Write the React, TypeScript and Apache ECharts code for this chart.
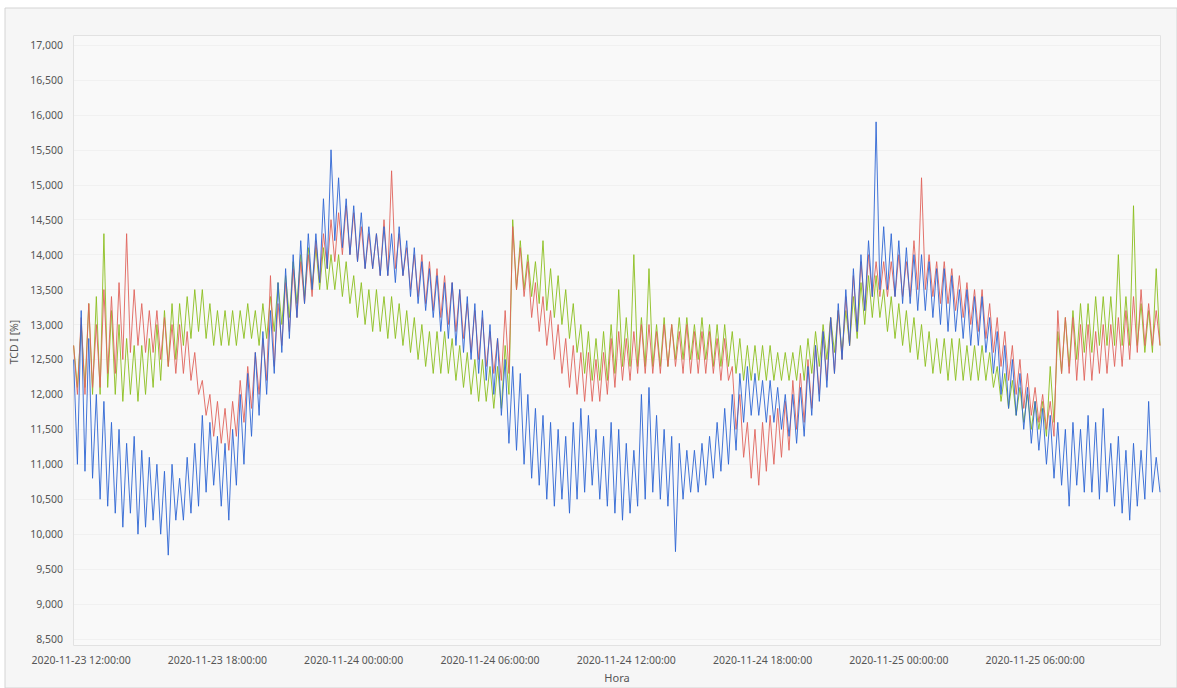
import React, { useEffect, useRef } from "react";
import * as echarts from "echarts";

// Readings every 20 minutes from 2020-11-23 11:40 (UTC): for each slot the
// upper reading (at the slot) and the lower reading (10 minutes later).
const START_TIME = Date.UTC(2020, 10, 23, 11, 40);
const SLOT_MS = 20 * 60 * 1000;
const HALF_MS = 10 * 60 * 1000;

const xTickLabels = [
  "2020-11-23 12:00:00",
  "2020-11-23 18:00:00",
  "2020-11-24 00:00:00",
  "2020-11-24 06:00:00",
  "2020-11-24 12:00:00",
  "2020-11-24 18:00:00",
  "2020-11-25 00:00:00",
  "2020-11-25 06:00:00",
];

const seriesNames = ["Verde", "Vermelho", "Azul"];

const greenHigh = [
  12700, 13000, 13300, 13400, 14300, 13200, 13000, 12800, 12700, 12700,
  12800, 13000, 13200, 13300, 13300, 13400, 13500, 13500, 13300, 13200,
  13200, 13200, 13200, 13300, 13200, 13300, 13400, 13600, 13700, 13900,
  14000, 14100, 14100, 14100, 14000, 14000, 13900, 13700, 13600, 13500,
  13500, 13400, 13400, 13300, 13200, 13100, 13000, 12900, 12900, 12900,
  12800, 12700, 12600, 12500, 12500, 12400, 12400, 12700, 14500, 14200,
  14000, 13900, 14200, 13800, 13700, 13500, 13300, 13000, 12900, 12800,
  12900, 13000, 13500, 13100, 14000, 13100, 13800, 13000, 13100, 13000,
  13100, 13100, 13000, 13100, 13000, 13000, 13000, 12900, 12800, 12700,
  12700, 12700, 12700, 12600, 12600, 12600, 12700, 12800, 12900, 13000,
  13100, 13200, 13200, 13400, 13600, 13700, 13700, 13500, 13400, 13300,
  13200, 13100, 13000, 12900, 12800, 12800, 12800, 12800, 12700, 12700,
  12700, 12600, 12400, 12300, 12200, 12100, 12000, 11900, 11900, 12400,
  12900, 13100, 13200, 13300, 13300, 13400, 13400, 13400, 14000, 13400,
  14700, 13300, 13200, 13800,
];
const greenLow = [
  12100, 12100, 12000, 12000, 12100, 12000, 11900, 12000, 11900, 12000,
  12100, 12200, 12400, 12500, 12700, 12800, 12900, 12800, 12700, 12700,
  12700, 12700, 12800, 12800, 12700, 12800, 12900, 13000, 13100, 13300,
  13400, 13500, 13500, 13500, 13500, 13400, 13300, 13100, 13000, 12900,
  12900, 12800, 12800, 12700, 12600, 12500, 12400, 12300, 12300, 12300,
  12200, 12100, 12000, 11900, 11900, 11800, 11800, 12000, 13500, 13500,
  13400, 13300, 13200, 13100, 13000, 12800, 12600, 12300, 12200, 12200,
  12200, 12300, 12400, 12400, 12400, 12400, 12400, 12400, 12400, 12500,
  12500, 12500, 12500, 12500, 12400, 12400, 12400, 12300, 12200, 12200,
  12200, 12200, 12200, 12200, 12200, 12200, 12200, 12300, 12400, 12500,
  12600, 12600, 12700, 12800, 13000, 13100, 13100, 12900, 12800, 12700,
  12600, 12500, 12400, 12300, 12300, 12200, 12200, 12200, 12200, 12200,
  12200, 12100, 11900, 11800, 11700, 11600, 11500, 11500, 11400, 11600,
  12300, 12400, 12500, 12600, 12600, 12700, 12700, 12700, 12700, 12700,
  12700, 12600, 12600, 12700,
];

const redHigh = [
  12700, 13100, 13300, 13000, 13500, 13400, 13600, 14300, 13500, 13300,
  13200, 13200, 13100, 13000, 13000, 12900, 12600, 12200, 12000, 11900,
  11800, 11900, 12200, 12400, 12600, 12800, 13700, 13300, 13600, 13800,
  13900, 14000, 14200, 14300, 14500, 14600, 14700, 14600, 14400, 14300,
  14300, 14500, 15200, 14300, 14100, 14000, 14000, 13900, 13800, 13700,
  13600, 13500, 13300, 13200, 13100, 12900, 12800, 13200, 14400, 14100,
  13900, 13600, 13400, 13200, 13000, 12800, 12700, 12600, 12600, 12500,
  12600, 12800, 12900, 12800, 12900, 13000, 13000, 12900, 13000, 13000,
  12900, 13000, 12900, 12900, 12900, 12800, 12800, 12400, 12000, 11600,
  11500, 11600, 11700, 11800, 11900, 12200, 12300, 12500, 12700, 12900,
  13100, 13200, 13400, 13700, 13900, 14000, 13900, 13900, 13900, 14000,
  13900, 14200, 15100, 14000, 13900, 13900, 13800, 13700, 13600, 13500,
  13500, 13300, 13100, 12900, 12700, 12500, 12300, 12100, 12000, 11900,
  13200, 13100, 13100, 13000, 13000, 12900, 13000, 13000, 13100, 13200,
  13400, 13500, 13300, 13200,
];
const redLow = [
  12000, 12000, 12100, 12100, 12300, 12300, 12500, 12600, 12700, 12600,
  12600, 12500, 12400, 12300, 12300, 12200, 12000, 11700, 11400, 11300,
  11200, 11400, 11600, 11800, 12000, 12200, 12400, 12700, 12900, 13100,
  13300, 13400, 13600, 13800, 13900, 14000, 14000, 13900, 13800, 13800,
  13700, 13700, 13800, 13700, 13500, 13400, 13300, 13200, 13100, 13000,
  12900, 12800, 12600, 12500, 12400, 12300, 12200, 12300, 13500, 13400,
  13100, 12900, 12700, 12500, 12300, 12100, 12000, 11900, 11900, 11900,
  12000, 12100, 12200, 12200, 12300, 12300, 12300, 12300, 12400, 12400,
  12300, 12300, 12300, 12300, 12300, 12200, 12200, 11500, 11100, 10800,
  10700, 10900, 11000, 11100, 11200, 11500, 11600, 11800, 12000, 12200,
  12300, 12500, 12700, 12900, 13200, 13400, 13400, 13400, 13400, 13400,
  13400, 13500, 13500, 13400, 13300, 13300, 13200, 13100, 13000, 12900,
  12800, 12600, 12400, 12200, 12000, 11800, 11700, 11600, 11500, 11400,
  12300, 12300, 12200, 12200, 12200, 12300, 12300, 12400, 12400, 12500,
  12600, 12700, 12700, 12700,
];

const blueHigh = [
  12500, 13200, 12800, 12000, 11900, 11600, 11500, 11300, 11400, 11200,
  11100, 11000, 10900, 11000, 10800, 11100, 11300, 11700, 11600, 11400,
  11300, 11500, 12000, 12300, 12600, 12900, 13200, 13600, 13800, 14000,
  14200, 14300, 14300, 14800, 15500, 15100, 14800, 14700, 14600, 14400,
  14300, 14400, 14300, 14400, 14200, 14100, 13900, 13800, 13700, 13600,
  13600, 13500, 13400, 13300, 13200, 13000, 12800, 12500, 12400, 12300,
  12000, 11800, 11700, 11600, 11500, 11400, 11600, 11800, 11700, 11500,
  11400, 11600, 11500, 11300, 11200, 12000, 12100, 11700, 11500, 11400,
  11300, 11200, 11200, 11300, 11400, 11600, 11800, 12000, 12300, 12400,
  12300, 12200, 12200, 12100, 12000, 12000, 12100, 12400, 12700, 12900,
  13100, 13300, 13500, 13800, 14000, 14200, 15900, 14400, 14300, 14200,
  14100, 14000, 14000, 13900, 13800, 13800, 13700, 13500, 13500, 13400,
  13400, 13100, 12900, 12700, 12500, 12300, 12100, 11900, 11800, 11700,
  11600, 11500, 11600, 11500, 11700, 11600, 11800, 11300, 11400, 11200,
  11300, 11200, 11900, 11100,
];
const blueLow = [
  11000, 10900, 10800, 10500, 10400, 10300, 10100, 10300, 10000, 10100,
  10200, 10000, 9700, 10200, 10200, 10300, 10400, 10600, 10700, 10400,
  10200, 10700, 11000, 11400, 11700, 12000, 12300, 12600, 12800, 13100,
  13300, 13500, 13600, 13800, 14200, 14100, 14000, 13900, 13800, 13800,
  13700, 13700, 13600, 13700, 13400, 13300, 13200, 13100, 12900, 12800,
  12700, 12600, 12500, 12300, 12200, 12000, 11700, 11300, 11200, 11000,
  10800, 10700, 10500, 10400, 10500, 10300, 10500, 10600, 10700, 10500,
  10400, 10300, 10200, 10300, 10400, 10500, 10600, 10500, 10400, 9750,
  10500, 10600, 10600, 10700, 10800, 10900, 11000, 11200, 11600, 11700,
  11700, 11600, 11600, 11500, 11400, 11300, 11400, 11700, 11900, 12100,
  12300, 12500, 12700, 12900, 13200, 13400, 13500, 13500, 13400, 13300,
  13300, 13200, 13200, 13100, 13000, 12900, 12900, 12800, 12700, 12700,
  12600, 12300, 12000, 11800, 11700, 11500, 11300, 11200, 11000, 10800,
  10700, 10400, 10700, 10600, 10600, 10500, 10600, 10400, 10300, 10200,
  10400, 10500, 10600, 10600,
];

const seriesHigh = [greenHigh, redHigh, blueHigh];
const seriesLow = [greenLow, redLow, blueLow];
const seriesColors = ["#8cbf1f", "#e0645c", "#2f66d4"];

const pad = (n: number) => String(n).padStart(2, "0");
const parseLabel = (s: string) => {
  const [d, t] = s.split(" ");
  const [y, m, dd] = d.split("-").map(Number);
  const [hh, mm, ss] = t.split(":").map(Number);
  return Date.UTC(y, m - 1, dd, hh, mm, ss);
};
const fmtTime = (v: number) => {
  const d = new Date(v);
  return `${d.getUTCFullYear()}-${pad(d.getUTCMonth() + 1)}-${pad(d.getUTCDate())} ${pad(
    d.getUTCHours()
  )}:${pad(d.getUTCMinutes())}:${pad(d.getUTCSeconds())}`;
};

const buildData = (hi: number[], lo: number[]) => {
  const out: [number, number][] = [];
  hi.forEach((h, i) => {
    const t = START_TIME + i * SLOT_MS;
    out.push([t, h]);
    out.push([t + HALF_MS, lo[i]]);
  });
  return out;
};

export default function App() {
  const ref = useRef<HTMLDivElement>(null);

  useEffect(() => {
    if (!ref.current) return;
    const chart = echarts.init(ref.current, undefined, { renderer: "svg" });
    const xTickValues = xTickLabels.map(parseLabel);
    const font = "'Noto Sans', 'DejaVu Sans', sans-serif";

    chart.setOption({
      animation: false,
      backgroundColor: "#ffffff",
      textStyle: { fontFamily: font },
      graphic: [
        {
          type: "rect",
          z: -20,
          silent: true,
          shape: { x: 5, y: 8, width: 1172, height: 680 },
          style: { fill: "#f6f6f6", stroke: "#d4d4d4", lineWidth: 1 },
        },
        {
          type: "rect",
          z: -19,
          silent: true,
          shape: { x: 73.5, y: 35.5, width: 1087, height: 610 },
          style: { fill: "#f9f9f9", stroke: "#e2e2e2", lineWidth: 1 },
        },
      ],
      grid: { left: 74, right: 17, top: 45, bottom: 48, containLabel: false },
      xAxis: {
        type: "value",
        min: Date.UTC(2020, 10, 23, 11, 41),
        max: Date.UTC(2020, 10, 25, 11, 30),
        name: "Hora",
        nameLocation: "middle",
        nameGap: 33,
        nameTextStyle: { color: "#555", fontSize: 11, fontFamily: font },
        axisLine: { show: false },
        axisTick: { show: false, customValues: xTickValues },
        splitLine: { show: false },
        axisLabel: {
          customValues: xTickValues,
          formatter: (v: number) => fmtTime(v),
          color: "#555",
          fontSize: 10.5,
          margin: 15,
          fontFamily: font,
          hideOverlap: false,
        },
      },
      yAxis: {
        type: "value",
        min: 8500,
        max: 17000,
        interval: 500,
        name: "TCD I [%]",
        nameLocation: "middle",
        nameGap: 50,
        nameRotate: 90,
        nameTextStyle: { color: "#555", fontSize: 10.5, fontFamily: font },
        axisLine: { show: false },
        axisTick: { show: false },
        splitLine: { show: true, lineStyle: { color: "#f1f1f1", width: 1 } },
        axisLabel: {
          color: "#555",
          fontSize: 10.5,
          margin: 11,
          fontFamily: font,
          formatter: (v: number) => v.toLocaleString("en-US"),
        },
      },
      series: seriesHigh.map((hi, k) => ({
        name: seriesNames[k],
        type: "line",
        showSymbol: false,
        symbol: "none",
        data: buildData(hi, seriesLow[k]),
        lineStyle: { color: seriesColors[k], width: 1, opacity: 0.9 },
        itemStyle: { color: seriesColors[k] },
        z: 2 + k,
      })),
    });

    return () => chart.dispose();
  }, []);

  return (
    <div
      ref={ref}
      style={{ position: "fixed", left: 0, top: 0, width: 1177, height: 688 }}
    />
  );
}
